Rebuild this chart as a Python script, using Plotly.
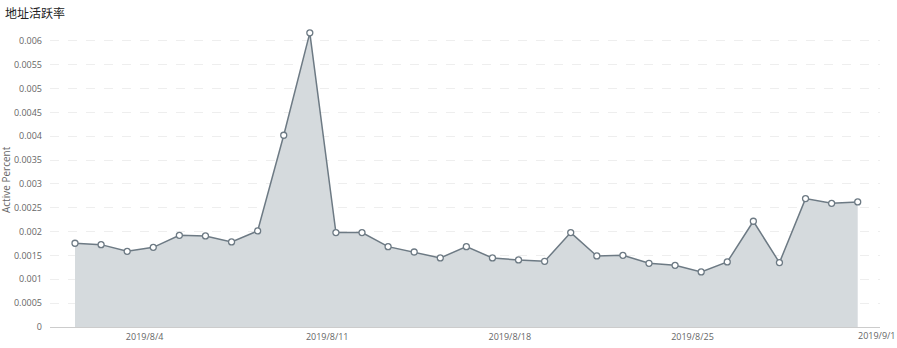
import plotly.graph_objects as go

dates = [f"2019-08-{d:02d}" for d in range(1, 32)]
active_percent = [
    0.001756, 0.001727, 0.001587, 0.001671, 0.001923, 0.001909, 0.001783, 0.002014,
    0.004021, 0.006168, 0.001979, 0.001979, 0.001685, 0.001573, 0.001448, 0.001685,
    0.001448, 0.001406, 0.001378, 0.001979, 0.001490, 0.001503, 0.001336, 0.001294,
    0.001154, 0.001364, 0.002217, 0.001350, 0.002692, 0.002594, 0.002622,
]
y_tickvals = [0, 0.0005, 0.001, 0.0015, 0.002, 0.0025, 0.003, 0.0035, 0.004, 0.0045, 0.005, 0.0055, 0.006]
y_ticktext = ["0", "0.0005", "0.001", "0.0015", "0.002", "0.0025", "0.003", "0.0035", "0.004", "0.0045", "0.005", "0.0055", "0.006"]
# tick marks sit at local (UTC+8) midnight, data at UTC midnight
x_tickvals = ["2019-08-03 16:00", "2019-08-10 16:00", "2019-08-17 16:00", "2019-08-24 16:00"]
x_ticktext = ["2019/8/4", "2019/8/11", "2019/8/18", "2019/8/25"]
last_label = "2019/9/1"
title = "地址活跃率"
y_title = "Active Percent"

PW, PH = 830, 310  # plot area size in px

fig = go.Figure()
fig.add_trace(go.Scatter(
    x=dates, y=active_percent, mode="lines+markers",
    fill="tozeroy", fillcolor="#d5dadd",
    line=dict(color="#6d7a84", width=1.5),
    marker=dict(symbol="circle", size=6, color="white",
                line=dict(color="#6d7a84", width=1.3)),
    showlegend=False, hoverinfo="x+y",
))

font = "Open Sans, Noto Sans CJK SC, sans-serif"
fig.update_layout(
    width=897, height=348,
    margin=dict(l=50, r=17, t=17, b=21, autoexpand=False),
    plot_bgcolor="white", paper_bgcolor="white",
    font=dict(family=font, size=9, color="#666"),
    xaxis=dict(
        type="date", automargin=False,
        range=["2019-07-31 01:00", "2019-08-31 20:30"],
        tickvals=x_tickvals, ticktext=x_ticktext,
        showgrid=False, zeroline=False,
        showline=True, linecolor="#cccccc", linewidth=1,
        ticks="", ticklabelstandoff=1,
        tickfont=dict(size=9, color="#666"),
    ),
    yaxis=dict(
        automargin=False,
        range=[0, 0.0065],
        tickvals=y_tickvals, ticktext=y_ticktext,
        showgrid=True, gridcolor="#eeeeee", griddash="dash", gridwidth=1,
        zeroline=False, showline=False, ticks="",
        ticklabelstandoff=7,
        tickfont=dict(size=9, color="#666"),
    ),
    annotations=[
        dict(text=title, xref="paper", yref="paper", x=-47/PW, y=1 + 4/PH,
             xanchor="left", yanchor="middle", showarrow=False,
             font=dict(family="Noto Sans CJK SC, sans-serif", size=12, color="#222")),
        dict(text=y_title, xref="paper", yref="paper", x=-44/PW, y=(327 - 180) / PH,
             xanchor="center", yanchor="middle", textangle=-90, showarrow=False,
             font=dict(size=10, color="#666")),
        dict(text=last_label, xref="paper", yref="paper", x=(897 - 50) / PW, y=-8/PH,
             xanchor="right", yanchor="middle", showarrow=False,
             font=dict(size=9, color="#666")),
    ],
)

fig.write_html("out.html")
